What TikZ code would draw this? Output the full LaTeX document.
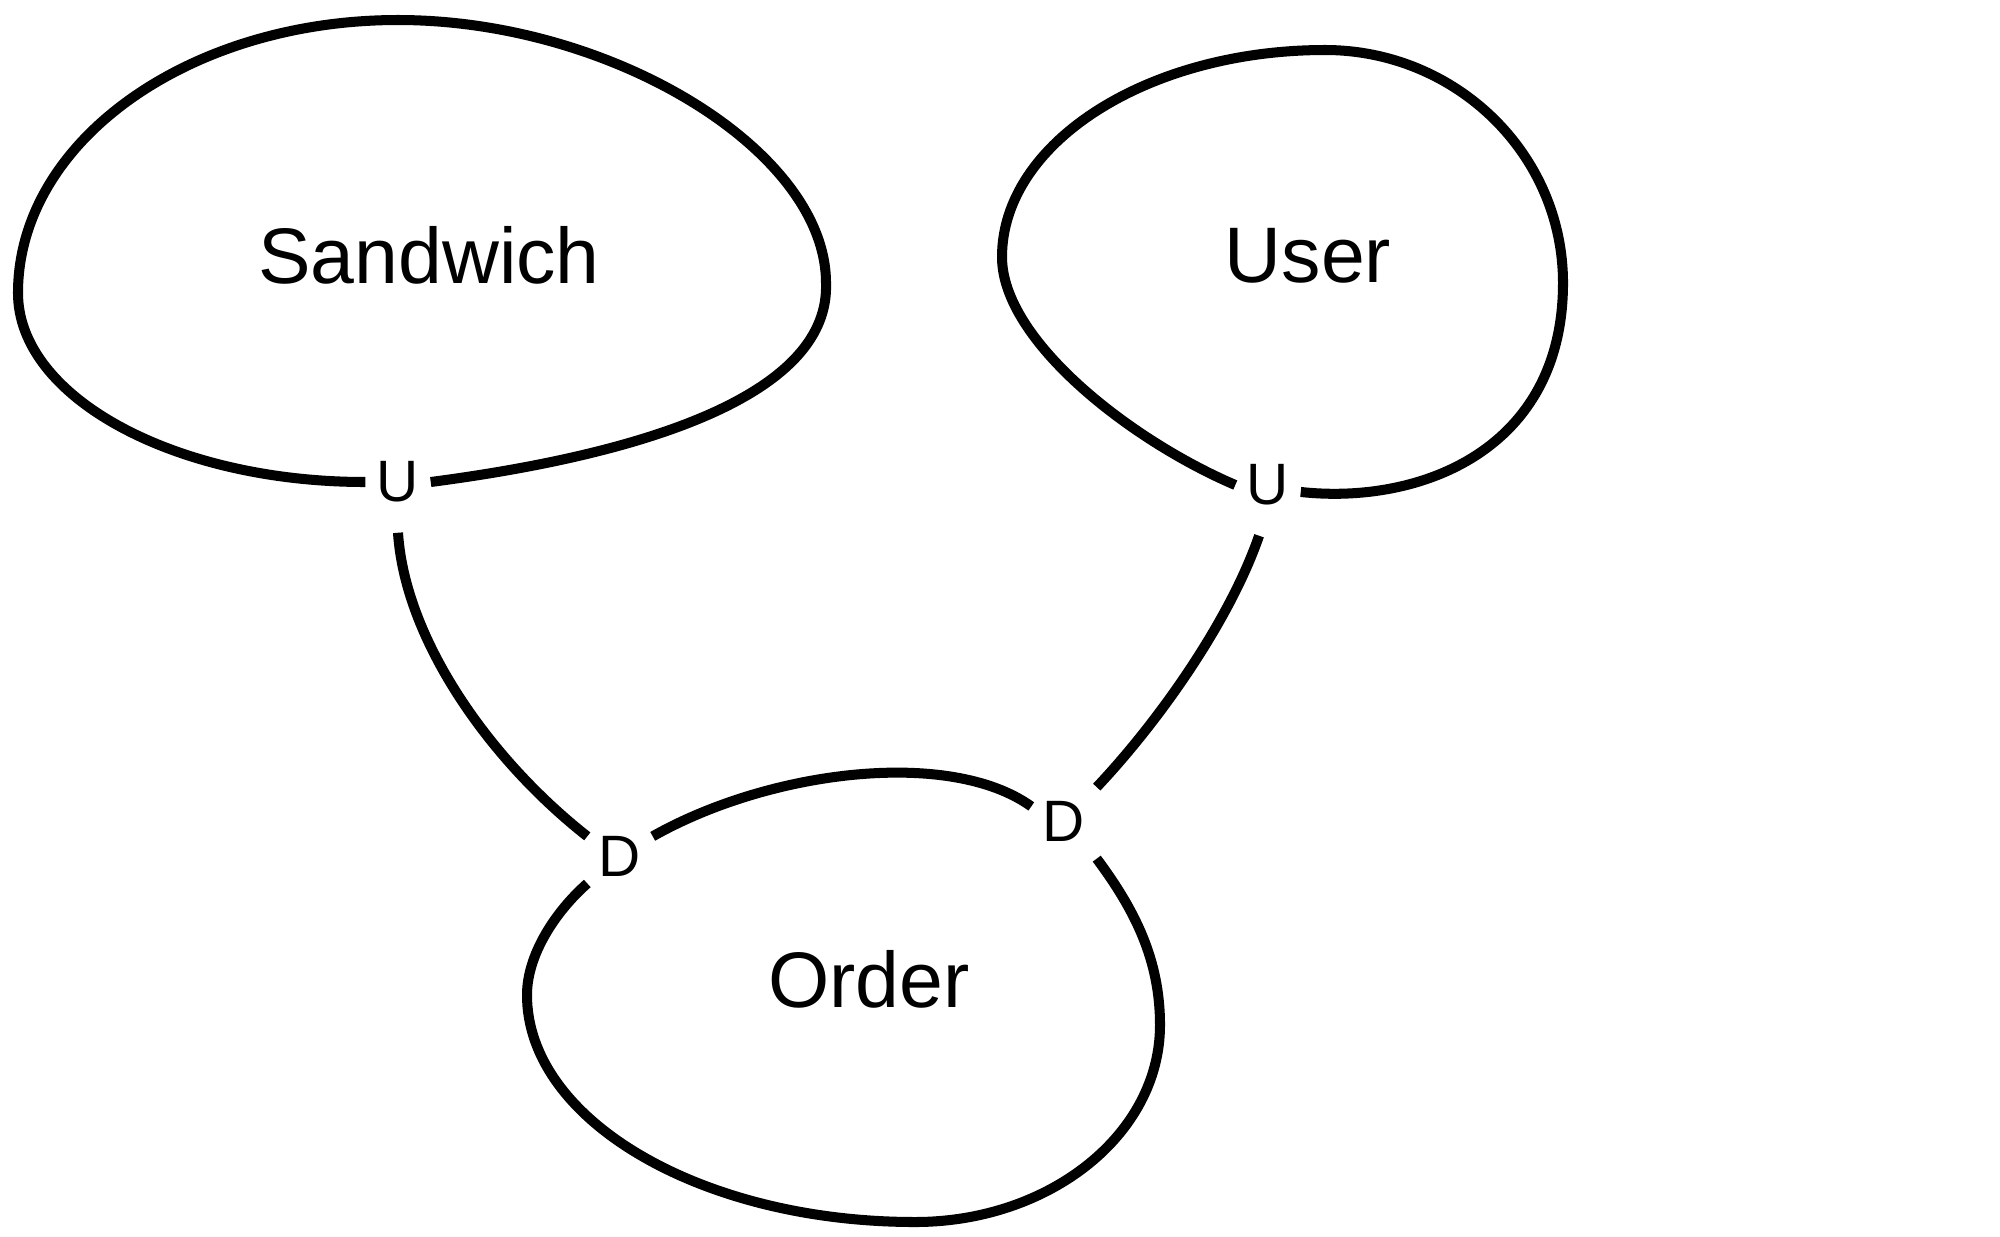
\documentclass[tikz,border=0pt]{standalone}
\usepackage{fontspec}
\setmainfont{Liberation Sans}
\tikzset{
  entity/.style={font=\fontsize{22.4}{26}\selectfont},
  card/.style={rectangle, inner sep=0pt, minimum width=0.64cm, minimum height=1cm, font=\fontsize{16.6}{20}\selectfont},
  rel/.style={black, line width=2.85pt}
}

\begin{document}
\begin{tikzpicture}[x=0.01cm,y=-0.01cm]
\useasboundingbox (0,0) rectangle (2000,1236);

\node[entity] (sandwich) at (429,255) {Sandwich};
\node[entity] (user) at (1308,256) {User};
\node[entity] (order) at (869,979) {Order};

\node[card] (u1) at (398,482) {U};
\node[card] (u2) at (1268,485) {U};
\node[card] (d1) at (620,856) {D};
\node[card] (d2) at (1064,821) {D};

%loops round the entities
\draw [rel] (u1.west) .. controls (174,482) and (18,397) .. (18,293)
  .. controls (18,142) and (188,20) .. (398,20)
  .. controls (612,20) and (826,151) .. (826,283)
  .. controls (830,390) and (660,452) .. (u1.east);
\draw [rel] (u2.west) .. controls (1130,440) and (1002,340) .. (1002,257)
  .. controls (1002,143) and (1147,50) .. (1325,50)
  .. controls (1456,50) and (1563,154) .. (1563,283)
  .. controls (1563,450) and (1420,505) .. (u2.-12);
\draw [rel] (d1.31) .. controls (770,770) and (950,748) .. (d2.156);
\draw [rel] (d2.-49) .. controls (1135,910) and (1160,960) .. (1160,1025)
  .. controls (1160,1134) and (1050,1222) .. (915,1222)
  .. controls (701,1222) and (527,1120) .. (527,995)
  .. controls (527,955) and (555,912) .. (d1.220);

%links between entities
\draw [rel] (u1.south) .. controls (405,640) and (490,760) .. (d1.149);
\draw [rel] (u2.-100) .. controls (1230,620) and (1160,720) .. (d2.46);
\end{tikzpicture}
\end{document}
